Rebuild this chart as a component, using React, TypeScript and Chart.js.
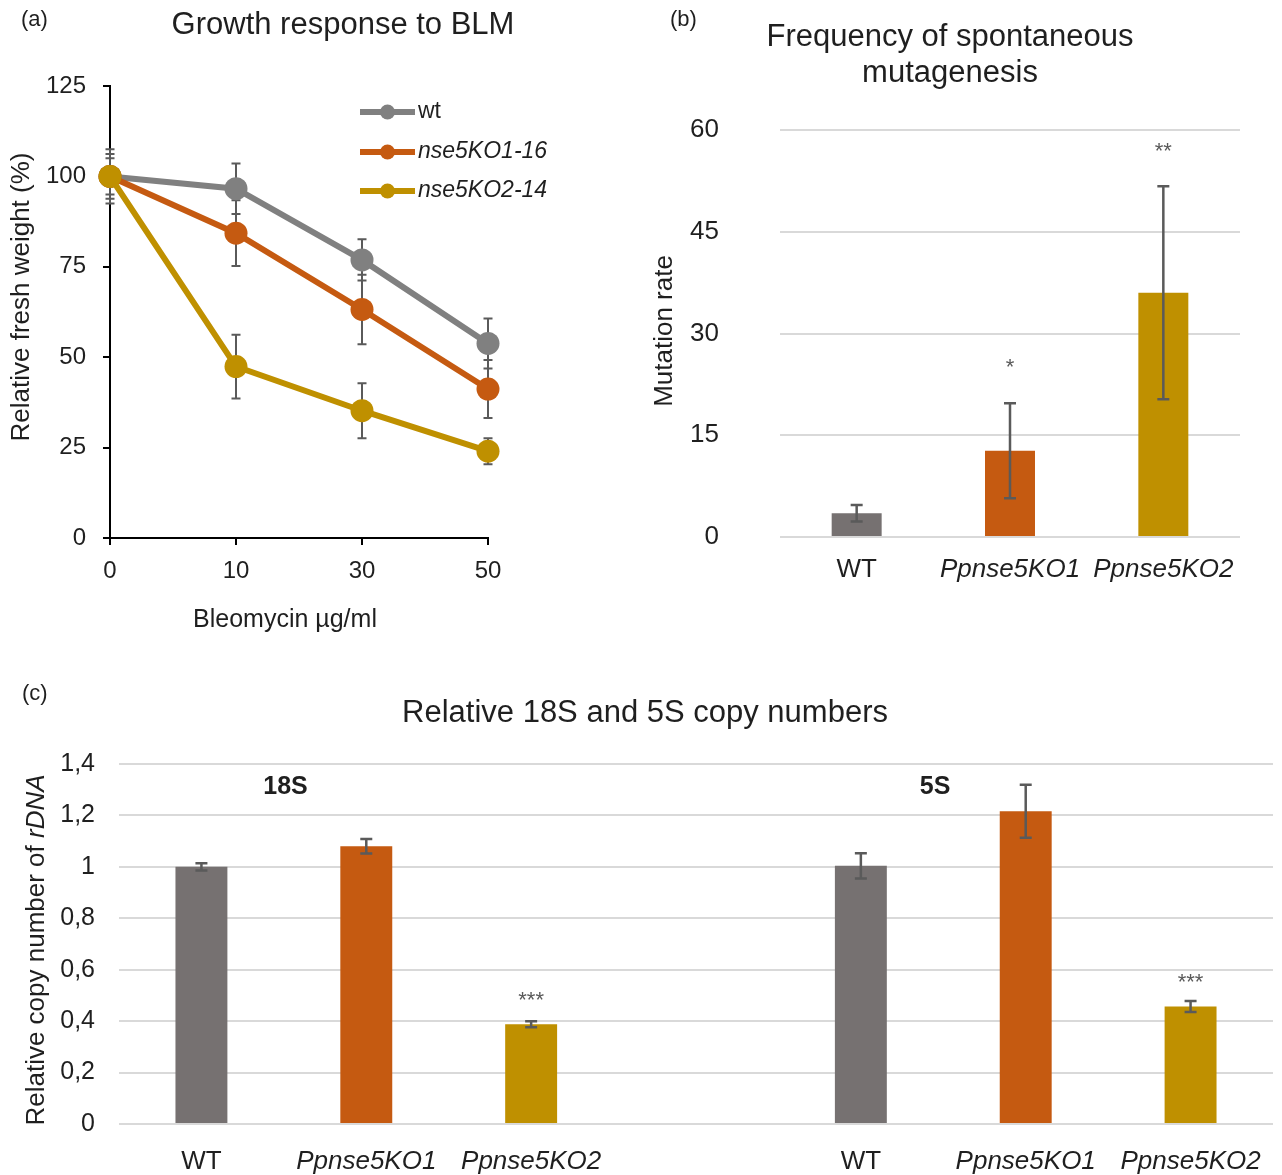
import React, { useEffect, useRef } from 'react';
import { Chart, registerables } from 'chart.js';

Chart.register(...registerables);

const FONT = '"Liberation Sans", Arial, Helvetica, sans-serif';
const TEXT = '#1f1f1f';
const ERR = '#5a5a5a';
const GRAY_LINE = '#808080';
const GRAY_BAR = '#767171';
const ORANGE = '#c55a11';
const GOLD = '#bf9000';

// ---------- (a) Growth response to BLM ----------
const doses = ['0', '10', '30', '50'];
const seriesNames = ['wt', 'nse5KO1-16', 'nse5KO2-14'];
const wtMean = [100, 96.6, 76.9, 53.8];
const wtErr = [7.5, 7.0, 5.7, 6.9];
const ko1Mean = [100, 84.3, 63.2, 41.2];
const ko1Err = [6.2, 9.1, 9.6, 8.0];
const ko2Mean = [100, 47.4, 35.2, 24.0];
const ko2Err = [5.0, 8.8, 7.6, 3.6];
const growthTicks = [0, 25, 50, 75, 100, 125];

// ---------- (b) Frequency of spontaneous mutagenesis ----------
const mutCategories = ['WT', 'Ppnse5KO1', 'Ppnse5KO2'];
const mutRate = [3.5, 12.7, 36.0];
const mutErr = [1.2, 7.0, 15.7];
const mutStars = ['', '*', '**'];
const mutStarValue = [null, 25.9, 57.8];

// ---------- (c) Relative 18S and 5S copy numbers ----------
const rdnaCategories = ['WT', 'Ppnse5KO1', 'Ppnse5KO2', '', 'WT', 'Ppnse5KO1', 'Ppnse5KO2'];
const rdnaValues = [1.0, 1.08, 0.388, null, 1.004, 1.216, 0.457];
const rdnaErr = [0.014, 0.028, 0.012, null, 0.049, 0.103, 0.021];
const rdnaStars = ['', '', '***', '', '', '', '***'];
const rdnaStarValue = [null, null, 0.504, null, null, null, 0.573];
const rdnaGroups = ['18S', '5S'];
const rdnaGroupIndex = [0.51, 4.45];
const rdnaGroupValue = [1.31, 1.31];

const barColors = [GRAY_BAR, ORANGE, GOLD];

type Seg = { t: string; italic?: boolean; bold?: boolean };
type TextItem = {
  segs: Seg[];
  x: number;
  y: number;
  size: number;
  rotate?: boolean;
  align?: 'left' | 'center';
  color?: string;
};

function fontStr(s: Seg, size: number) {
  return `${s.italic ? 'italic ' : ''}${s.bold ? 'bold ' : ''}${size}px ${FONT}`;
}

function textPlugin(items: TextItem[]) {
  return {
    id: 'texts',
    afterDraw(chart: any) {
      const ctx = chart.ctx as CanvasRenderingContext2D;
      for (const it of items) {
        ctx.save();
        ctx.translate(it.x, it.y);
        if (it.rotate) ctx.rotate(-Math.PI / 2);
        ctx.textBaseline = 'middle';
        ctx.textAlign = 'left';
        ctx.fillStyle = it.color || TEXT;
        let total = 0;
        const widths = it.segs.map((s) => {
          ctx.font = fontStr(s, it.size);
          const w = ctx.measureText(s.t).width;
          total += w;
          return w;
        });
        let x = it.align === 'left' ? 0 : -total / 2;
        it.segs.forEach((s, i) => {
          ctx.font = fontStr(s, it.size);
          ctx.fillText(s.t, x, 0);
          x += widths[i];
        });
        ctx.restore();
      }
    },
  };
}

function errorBarPlugin(
  errors: (number | null)[][],
  opts: { cap: number; width: number; color: string; before?: boolean }
) {
  const draw = (chart: any) => {
    const ctx = chart.ctx as CanvasRenderingContext2D;
    const yScale = chart.scales.y;
    errors.forEach((errs, di) => {
      const meta = chart.getDatasetMeta(di);
      const values = chart.data.datasets[di].data as (number | null)[];
      errs.forEach((e, j) => {
        const v = values[j];
        if (e == null || v == null || !meta.data[j]) return;
        const px = meta.data[j].x;
        const yt = yScale.getPixelForValue(v + e);
        const yb = yScale.getPixelForValue(v - e);
        ctx.save();
        ctx.strokeStyle = opts.color;
        ctx.lineWidth = opts.width;
        ctx.beginPath();
        ctx.moveTo(px, yt);
        ctx.lineTo(px, yb);
        ctx.moveTo(px - opts.cap, yt);
        ctx.lineTo(px + opts.cap, yt);
        ctx.moveTo(px - opts.cap, yb);
        ctx.lineTo(px + opts.cap, yb);
        ctx.stroke();
        ctx.restore();
      });
    });
  };
  return opts.before
    ? { id: 'errbars', beforeDatasetsDraw: draw }
    : { id: 'errbars', afterDatasetsDraw: draw };
}

type Anno = { text: string; index: number; value: number | null; size: number; bold?: boolean; color: string; star?: boolean };

function annoPlugin(items: Anno[]) {
  return {
    id: 'annos',
    afterDatasetsDraw(chart: any) {
      const ctx = chart.ctx as CanvasRenderingContext2D;
      const xs = chart.scales.x;
      const ys = chart.scales.y;
      for (const a of items) {
        if (!a.text || a.value == null) continue;
        const x = xs.getPixelForValue(a.index);
        const y = ys.getPixelForValue(a.value);
        ctx.save();
        ctx.fillStyle = a.color;
        ctx.font = `${a.bold ? 'bold ' : ''}${a.size}px ${FONT}`;
        ctx.textAlign = 'center';
        if (a.star) {
          ctx.textBaseline = 'alphabetic';
          ctx.fillText(a.text, x, y + 0.58 * a.size);
        } else {
          ctx.textBaseline = 'middle';
          ctx.fillText(a.text, x, y);
        }
        ctx.restore();
      }
    },
  };
}

function legendPlugin(rowsY: number[], x1: number, x2: number, textX: number, size: number) {
  return {
    id: 'customLegend',
    afterDraw(chart: any) {
      const ctx = chart.ctx as CanvasRenderingContext2D;
      chart.data.datasets.forEach((ds: any, i: number) => {
        const y = rowsY[i];
        ctx.save();
        ctx.strokeStyle = ds.borderColor;
        ctx.lineWidth = 6;
        ctx.beginPath();
        ctx.moveTo(x1, y);
        ctx.lineTo(x2, y);
        ctx.stroke();
        ctx.fillStyle = ds.borderColor;
        ctx.beginPath();
        ctx.arc((x1 + x2) / 2, y, 7.5, 0, Math.PI * 2);
        ctx.fill();
        ctx.fillStyle = TEXT;
        ctx.font = `${i > 0 ? 'italic ' : ''}${size}px ${FONT}`;
        ctx.textBaseline = 'middle';
        ctx.textAlign = 'left';
        ctx.fillText(ds.label, textX, y);
        ctx.restore();
      });
    },
  };
}

const italicFor = (size: number) => (ctx: any) => {
  const lbl = ctx && ctx.tick ? String(ctx.tick.label) : '';
  return { family: FONT, size, style: lbl.startsWith('P') ? 'italic' : 'normal' };
};

function growthConfig(): any {
  const mk = (label: string, data: number[], color: string, order: number) => ({
    label,
    data,
    borderColor: color,
    backgroundColor: color,
    pointBackgroundColor: color,
    pointBorderColor: color,
    borderWidth: 6,
    pointRadius: 11.5,
    pointBorderWidth: 0,
    tension: 0,
    clip: false,
    order,
  });
  return {
    type: 'line',
    data: {
      labels: doses,
      datasets: [
        mk(seriesNames[0], wtMean, GRAY_LINE, 2),
        mk(seriesNames[1], ko1Mean, ORANGE, 1),
        mk(seriesNames[2], ko2Mean, GOLD, 0),
      ],
    },
    options: {
      animation: false,
      responsive: false,
      events: [],
      layout: { padding: { left: 0, top: 86, right: 152, bottom: 0 } },
      plugins: { legend: { display: false }, tooltip: { enabled: false }, title: { display: false } },
      scales: {
        x: {
          type: 'category',
          offset: false,
          grid: { display: true, drawOnChartArea: false, drawTicks: true, tickLength: 7, color: '#000', lineWidth: 2 },
          border: { display: true, color: '#000', width: 2 },
          ticks: { font: { family: FONT, size: 24 }, color: TEXT, padding: 12, maxRotation: 0, autoSkip: false },
          afterFit: (s: any) => { s.height = 112; },
        },
        y: {
          min: 0,
          max: 125,
          afterBuildTicks: (s: any) => { s.ticks = growthTicks.map((v) => ({ value: v })); },
          grid: { display: true, drawOnChartArea: false, drawTicks: true, tickLength: 7, color: '#000', lineWidth: 2 },
          border: { display: true, color: '#000', width: 2 },
          ticks: { font: { family: FONT, size: 24 }, color: TEXT, padding: 17 },
          afterFit: (s: any) => { s.width = 110; },
        },
      },
    },
    plugins: [
      errorBarPlugin([wtErr, ko1Err, ko2Err], { cap: 4.5, width: 2, color: ERR, before: true }),
      legendPlugin([112, 152, 191], 360, 415, 418, 23),
      textPlugin([
        { segs: [{ t: '(a)' }], x: 21, y: 20, size: 22, align: 'left' },
        { segs: [{ t: 'Growth response to BLM' }], x: 343, y: 25, size: 31 },
        { segs: [{ t: 'Relative fresh weight (%)' }], x: 22, y: 297, size: 26, rotate: true },
        { segs: [{ t: 'Bleomycin µg/ml' }], x: 285, y: 620, size: 25 },
      ]),
    ],
  };
}

function mutConfig(): any {
  return {
    type: 'bar',
    data: {
      labels: mutCategories,
      datasets: [
        {
          label: 'Mutation rate',
          data: mutRate,
          backgroundColor: barColors,
          borderWidth: 0,
          barPercentage: 0.326,
          categoryPercentage: 1,
        },
      ],
    },
    options: {
      animation: false,
      responsive: false,
      events: [],
      layout: { padding: { left: 0, top: 130, right: 42, bottom: 0 } },
      plugins: { legend: { display: false }, tooltip: { enabled: false }, title: { display: false } },
      scales: {
        x: {
          grid: { display: false },
          border: { display: false },
          ticks: { font: italicFor(26), color: TEXT, padding: 9, maxRotation: 0, autoSkip: false },
          afterFit: (s: any) => { s.height = 113; },
        },
        y: {
          min: 0,
          max: 60,
          ticks: { stepSize: 15, font: { family: FONT, size: 26 }, color: TEXT, padding: 61 },
          grid: { color: '#d9d9d9', lineWidth: 2, drawTicks: false },
          border: { display: false },
          afterFit: (s: any) => { s.width = 140; },
        },
      },
    },
    plugins: [
      errorBarPlugin([mutErr], { cap: 6, width: 2.5, color: ERR }),
      annoPlugin(mutStars.map((t, i) => ({ text: t, index: i, value: mutStarValue[i], size: 22, color: ERR, star: true }))),
      textPlugin([
        { segs: [{ t: '(b)' }], x: 670, y: 20, size: 22, align: 'left' },
        { segs: [{ t: 'Frequency of spontaneous' }], x: 310, y: 37, size: 31 },
        { segs: [{ t: 'mutagenesis' }], x: 310, y: 73, size: 31 },
        { segs: [{ t: 'Mutation rate' }], x: 25, y: 331, size: 26, rotate: true },
      ].map((t) => (t.x === 670 ? { ...t, x: 30 } : t))),
    ],
  };
}

function rdnaConfig(): any {
  return {
    type: 'bar',
    data: {
      labels: rdnaCategories,
      datasets: [
        {
          label: 'Relative copy number',
          data: rdnaValues,
          backgroundColor: [GRAY_BAR, ORANGE, GOLD, GRAY_BAR, GRAY_BAR, ORANGE, GOLD],
          borderWidth: 0,
          barPercentage: 0.315,
          categoryPercentage: 1,
        },
      ],
    },
    options: {
      animation: false,
      responsive: false,
      events: [],
      layout: { padding: { left: 0, top: 114, right: 9, bottom: 0 } },
      plugins: { legend: { display: false }, tooltip: { enabled: false }, title: { display: false } },
      scales: {
        x: {
          grid: { display: false },
          border: { display: false },
          ticks: { font: italicFor(26), color: TEXT, padding: 14, maxRotation: 0, autoSkip: false },
          afterFit: (s: any) => { s.height = 51; },
        },
        y: {
          min: 0,
          max: 1.4,
          ticks: {
            stepSize: 0.2,
            font: { family: FONT, size: 25 },
            color: TEXT,
            padding: 24,
            callback: (v: any) => {
              const n = Math.round(Number(v) * 10) / 10;
              return String(n).replace('.', ',');
            },
          },
          grid: { color: '#d9d9d9', lineWidth: 2, drawTicks: false },
          border: { display: false },
          afterFit: (s: any) => { s.width = 119; },
        },
      },
    },
    plugins: [
      errorBarPlugin([rdnaErr], { cap: 6, width: 2.5, color: ERR }),
      annoPlugin([
        ...rdnaStars.map((t, i) => ({ text: t, index: i, value: rdnaStarValue[i], size: 22, color: ERR, star: true })),
        ...rdnaGroups.map((t, i) => ({ text: t, index: rdnaGroupIndex[i], value: rdnaGroupValue[i], size: 25, bold: true, color: TEXT })),
      ]),
      textPlugin([
        { segs: [{ t: '(c)' }], x: 22, y: 44, size: 22, align: 'left' },
        { segs: [{ t: 'Relative 18S and 5S copy numbers' }], x: 645, y: 63, size: 31 },
        { segs: [{ t: 'Relative copy number of ' }, { t: 'rDNA', italic: true }], x: 37, y: 300, size: 26, rotate: true },
      ]),
    ],
  };
}

function ChartCanvas(props: { make: () => any; left: number; top: number; width: number; height: number }) {
  const ref = useRef<HTMLCanvasElement>(null);
  useEffect(() => {
    if (!ref.current) return;
    const chart = new Chart(ref.current, props.make());
    return () => chart.destroy();
  }, []);
  return (
    <canvas
      ref={ref}
      width={props.width}
      height={props.height}
      style={{ position: 'absolute', left: props.left, top: props.top, width: props.width, height: props.height }}
    />
  );
}

export default function App() {
  return (
    <div style={{ position: 'absolute', left: 0, top: 0, width: 1282, height: 1175, background: '#fff', overflow: 'hidden' }}>
      <ChartCanvas make={growthConfig} left={0} top={0} width={640} height={650} />
      <ChartCanvas make={mutConfig} left={640} top={0} width={642} height={650} />
      <ChartCanvas make={rdnaConfig} left={0} top={650} width={1282} height={525} />
    </div>
  );
}
